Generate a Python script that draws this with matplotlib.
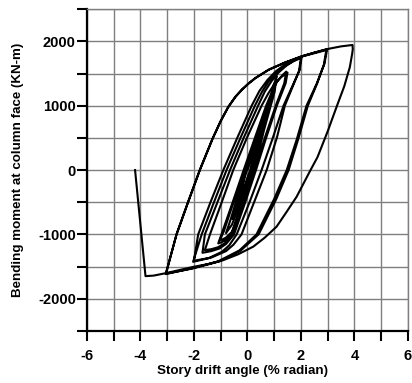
import numpy as np
import matplotlib
matplotlib.use("Agg")
import matplotlib.pyplot as plt
from matplotlib.ticker import MultipleLocator, FuncFormatter

# Cyclic test record, one list pair per half-cycle
# drift in % radian, moment at column face in kN-m
START_DRIFT = [0.0, 0.18, 0.40]
START_MOMENT = [0, 230, 470]

A_DOWN_DRIFT = [0.40, 0.27, 0.10, -0.12, -0.38]
A_DOWN_MOMENT = [470, 280, 0, -260, -520]
B_UP_DRIFT = [-0.38, -0.24, -0.02, 0.22, 0.45, 0.58]
B_UP_MOMENT = [-520, -320, 0, 300, 580, 720]
B_DOWN_DRIFT = [0.58, 0.45, 0.14, -0.18, -0.42, -0.55]
B_DOWN_MOMENT = [720, 520, 0, -380, -640, -760]
C_UP_DRIFT = [-0.55, -0.38, -0.05, 0.30, 0.62, 0.82]
C_UP_MOMENT = [-760, -540, 0, 450, 850, 1060]
C_DOWN_DRIFT = [0.82, 0.68, 0.18, -0.25, -0.58, -0.80]
C_DOWN_MOMENT = [1060, 860, 0, -500, -850, -980]

D1_UP_DRIFT = [-0.80, -0.62, -0.08, 0.40, 0.82, 0.94, 1.00]
D1_UP_MOMENT = [-980, -760, 0, 550, 1030, 1220, 1350]
D1_DOWN_DRIFT = [1.00, 0.93, 0.55, 0.22, -0.18, -0.58, -0.80, -0.94, -1.03]
D1_DOWN_MOMENT = [1350, 1150, 600, 0, -500, -960, -1050, -1080, -1090]
D2_UP_DRIFT = [-1.03, -0.88, -0.48, -0.08, 0.35, 0.82, 0.98, 1.09]
D2_UP_MOMENT = [-1090, -950, -450, 0, 500, 1000, 1280, 1460]
D2_DOWN_DRIFT = [1.09, 1.02, 0.62, 0.26, -0.15, -0.58, -0.82, -0.98, -1.09]
D2_DOWN_MOMENT = [1460, 1220, 620, 0, -500, -980, -1090, -1125, -1140]

E1_UP_DRIFT = [-1.09, -0.97, -0.55, -0.14, 0.28, 0.70, 0.92, 1.12, 1.30, 1.45]
E1_UP_MOMENT = [-1140, -1000, -500, 0, 500, 1000, 1220, 1380, 1470, 1530]
E1_DOWN_DRIFT = [1.45, 1.38, 1.06, 0.65, 0.28, -0.12, -0.56, -0.85, -1.10, -1.35, -1.59]
E1_DOWN_MOMENT = [1530, 1350, 1000, 500, 0, -500, -1000, -1140, -1200, -1230, -1244]
E2_UP_DRIFT = [-1.59, -1.40, -0.96, -0.53, -0.02, 0.53, 0.78, 0.98, 1.25, 1.50]
E2_UP_MOMENT = [-1244, -1000, -500, 0, 500, 1000, 1190, 1320, 1440, 1515]
E2_DOWN_DRIFT = [1.50, 1.43, 1.10, 0.70, 0.32, -0.08, -0.50, -0.80, -1.05, -1.35, -1.68]
E2_DOWN_MOMENT = [1515, 1350, 1000, 500, 0, -500, -1000, -1150, -1220, -1260, -1286]

F1_UP_DRIFT = [-1.68, -1.59, -1.12, -0.65, -0.14, 0.40, 0.65, 0.90, 1.15, 1.45, 1.75, 2.03]
F1_UP_MOMENT = [-1286, -1000, -500, 0, 500, 1000, 1220, 1380, 1510, 1620, 1700, 1762]
F1_DOWN_DRIFT = [2.03, 1.95, 1.35, 0.95, 0.53, 0.08, -0.40, -0.68, -0.95, -1.45, -2.03]
F1_DOWN_MOMENT = [1762, 1550, 1000, 500, 0, -500, -1000, -1170, -1270, -1370, -1426]
F2_UP_DRIFT = [-2.03, -1.71, -1.25, -0.78, -0.26, 0.28, 0.55, 0.80, 1.08, 1.40, 1.70, 2.00]
F2_UP_MOMENT = [-1426, -1000, -500, 0, 500, 1000, 1220, 1380, 1510, 1620, 1690, 1740]
F2_DOWN_DRIFT = [2.00, 1.93, 1.40, 1.10, 0.72, 0.25, -0.22, -0.52, -0.80, -1.35, -2.00]
F2_DOWN_MOMENT = [1740, 1540, 1000, 500, 0, -500, -1000, -1160, -1260, -1360, -1410]

G1_UP_DRIFT = [-2.00, -1.84, -1.38, -0.90, -0.38, 0.16, 0.45, 0.75, 1.05, 1.40, 1.75, 2.10, 2.55, 2.98]
G1_UP_MOMENT = [-1410, -1000, -500, 0, 500, 1000, 1230, 1400, 1530, 1640, 1715, 1775, 1830, 1877]
G1_DOWN_DRIFT = [2.98, 2.88, 2.60, 2.21, 1.84, 1.47, 1.00, 0.34, -0.30, -1.10, -2.10, -3.05]
G1_DOWN_MOMENT = [1877, 1650, 1350, 1000, 470, 0, -450, -1000, -1250, -1420, -1530, -1617]
G2_UP_DRIFT = [-3.05, -2.65, -2.22, -1.78, -1.30, -1.00, -0.72, -0.45, -0.20,
               0.05, 0.30, 0.80, 1.40, 2.00, 2.50, 2.95]
G2_UP_MOMENT = [-1617, -1000, -500, 0, 490, 760, 980, 1140, 1255,
                1350, 1430, 1560, 1670, 1760, 1815, 1865]
G2_DOWN_DRIFT = [2.95, 2.86, 2.60, 2.26, 1.90, 1.54, 1.08, 0.42, -0.25, -1.05, -2.05, -3.05]
G2_DOWN_MOMENT = [1865, 1640, 1340, 1000, 480, 0, -450, -1000, -1250, -1420, -1530, -1610]

H_UP_DRIFT = [-3.05, -2.65, -2.22, -1.78, -1.30, -1.00, -0.72, -0.45, -0.20,
              0.05, 0.30, 0.80, 1.40, 2.00, 2.50, 2.98, 3.50, 3.80, 3.93]
H_UP_MOMENT = [-1610, -1000, -500, 0, 490, 760, 975, 1135, 1250,
               1345, 1430, 1560, 1670, 1765, 1825, 1880, 1922, 1938, 1944]
H_DOWN_DRIFT = [3.93, 3.94, 3.92, 3.83, 3.62, 3.35, 3.00, 2.62, 2.36, 1.84, 1.45,
                1.09, 0.65, 0.22, -0.35, -0.90, -1.45, -2.03, -3.02, -3.50, -3.81]
H_DOWN_MOMENT = [1944, 1880, 1815, 1600, 1300, 1000, 600, 200, 0, -415, -660,
                 -880, -1050, -1190, -1310, -1400, -1460, -1505, -1600, -1640, -1649]

END_DRIFT = [-3.81, -4.20]
END_MOMENT = [-1649, 0]

BRANCHES = [
    (START_DRIFT, START_MOMENT),
    (A_DOWN_DRIFT, A_DOWN_MOMENT),
    (B_UP_DRIFT, B_UP_MOMENT), (B_DOWN_DRIFT, B_DOWN_MOMENT),
    (C_UP_DRIFT, C_UP_MOMENT), (C_DOWN_DRIFT, C_DOWN_MOMENT),
    (D1_UP_DRIFT, D1_UP_MOMENT), (D1_DOWN_DRIFT, D1_DOWN_MOMENT),
    (D2_UP_DRIFT, D2_UP_MOMENT), (D2_DOWN_DRIFT, D2_DOWN_MOMENT),
    (E1_UP_DRIFT, E1_UP_MOMENT), (E1_DOWN_DRIFT, E1_DOWN_MOMENT),
    (E2_UP_DRIFT, E2_UP_MOMENT), (E2_DOWN_DRIFT, E2_DOWN_MOMENT),
    (F1_UP_DRIFT, F1_UP_MOMENT), (F1_DOWN_DRIFT, F1_DOWN_MOMENT),
    (F2_UP_DRIFT, F2_UP_MOMENT), (F2_DOWN_DRIFT, F2_DOWN_MOMENT),
    (G1_UP_DRIFT, G1_UP_MOMENT), (G1_DOWN_DRIFT, G1_DOWN_MOMENT),
    (G2_UP_DRIFT, G2_UP_MOMENT), (G2_DOWN_DRIFT, G2_DOWN_MOMENT),
    (H_UP_DRIFT, H_UP_MOMENT), (H_DOWN_DRIFT, H_DOWN_MOMENT),
    (END_DRIFT, END_MOMENT),
]

drift = np.concatenate([d for d, _ in BRANCHES])
moment = np.concatenate([m for _, m in BRANCHES])

plt.rcParams["font.family"] = ["Liberation Sans", "DejaVu Sans"]
plt.rcParams["font.weight"] = "bold"

fig = plt.figure(figsize=(4.12, 3.83), dpi=100)
ax = fig.add_axes([0.211, 0.136, 0.779, 0.840])

ax.plot(drift, moment, color="black", lw=1.5, solid_joinstyle="round")

ax.set_xlim(-6, 6)
ax.set_ylim(-2500, 2500)
ax.xaxis.set_major_locator(MultipleLocator(1))
ax.yaxis.set_major_locator(MultipleLocator(500))
ax.xaxis.set_major_formatter(FuncFormatter(lambda v, p: f"{v:.0f}" if round(v) % 2 == 0 else ""))
ax.yaxis.set_major_formatter(FuncFormatter(lambda v, p: f"{v:.0f}" if round(v) % 1000 == 0 else ""))

ax.grid(True, color="#7f7f7f", lw=1.0)
ax.set_axisbelow(True)
ax.tick_params(direction="out", length=7, width=1.5, labelsize=10.5, pad=1, colors="black")
ax.tick_params(axis="x", pad=6)

for side in ("left", "bottom"):
    ax.spines[side].set_linewidth(1.6)
    ax.spines[side].set_color("black")
for side in ("top", "right"):
    ax.spines[side].set_linewidth(1.0)
    ax.spines[side].set_color("#7f7f7f")

ax.set_xlabel("Story drift angle (% radian)", fontsize=9.6, fontweight="bold", labelpad=0)
ax.set_ylabel("Bending moment at column face (KN-m)", fontsize=9.6, fontweight="bold", labelpad=10)
ax.xaxis.set_label_coords(0.485, -0.105)

fig.savefig("out.png", dpi=100)
